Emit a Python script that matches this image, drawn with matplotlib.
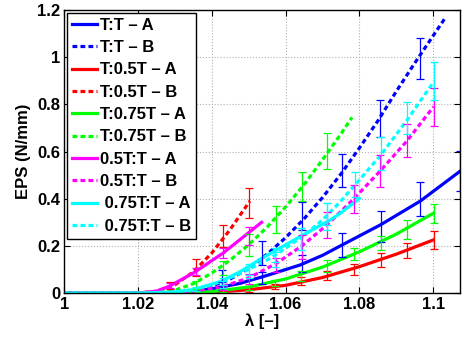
import numpy as np
import matplotlib
matplotlib.use('Agg')
import matplotlib.pyplot as plt

plt.rcParams['font.family'] = ['Liberation Sans', 'DejaVu Sans']
plt.rcParams['font.weight'] = 'bold'

# fitted curves
tt_a_x = [1.0, 1.02, 1.03, 1.035, 1.04, 1.0476, 1.055, 1.0639, 1.07, 1.0752, 1.0858, 1.0965, 1.108]
tt_a_y = [0, 0, 0.003, 0.008, 0.018, 0.041, 0.075, 0.119, 0.16, 0.203, 0.29, 0.39, 0.525]
tt_b_x = [1.0, 1.02, 1.03, 1.035, 1.04, 1.045, 1.05, 1.055, 1.06, 1.065, 1.07, 1.075, 1.08, 1.085, 1.09, 1.095, 1.1032]
tt_b_y = [0, 0, 0.002, 0.01, 0.03, 0.06, 0.105, 0.165, 0.235, 0.315, 0.405, 0.505, 0.615, 0.73, 0.855, 0.975, 1.165]
t05_a_x = [1.0, 1.03, 1.04, 1.05, 1.06, 1.07, 1.08, 1.09, 1.1]
t05_a_y = [0, 0, 0.003, 0.014, 0.033, 0.066, 0.112, 0.165, 0.225]
t05_b_x = [1.0, 1.02, 1.025, 1.03, 1.035, 1.04, 1.045, 1.0503]
t05_b_y = [0, 0, 0.008, 0.035, 0.09, 0.17, 0.27, 0.39]
t075_a_x = [1.0, 1.03, 1.04, 1.05, 1.06, 1.07, 1.08, 1.09, 1.1]
t075_a_y = [0, 0.001, 0.006, 0.026, 0.06, 0.11, 0.175, 0.25, 0.338]
t075_b_x = [1.0, 1.02, 1.025, 1.03, 1.035, 1.04, 1.045, 1.05, 1.055, 1.06, 1.065, 1.07, 1.075, 1.078]
t075_b_y = [0, 0, 0.002, 0.012, 0.04, 0.085, 0.14, 0.205, 0.28, 0.365, 0.46, 0.565, 0.675, 0.745]
h05_a_x = [1.0, 1.02, 1.025, 1.0286, 1.035, 1.0431, 1.0503, 1.0535]
h05_a_y = [0, 0, 0.008, 0.03, 0.085, 0.17, 0.26, 0.30]
h05_b_x = [1.0, 1.025, 1.03, 1.035, 1.043, 1.0501, 1.0574, 1.0644, 1.0713, 1.0785, 1.0856, 1.0929, 1.1001]
h05_b_y = [0, 0, 0.002, 0.008, 0.028, 0.065, 0.125, 0.2, 0.29, 0.40, 0.517, 0.645, 0.79]
h075_a_x = [1.0, 1.02, 1.03, 1.035, 1.0422, 1.0476, 1.0535, 1.0639, 1.072, 1.0748, 1.08]
h075_a_y = [0, 0, 0.005, 0.015, 0.048, 0.09, 0.147, 0.239, 0.309, 0.338, 0.401]
h075_b_x = [1.0, 1.025, 1.03, 1.035, 1.04, 1.045, 1.05, 1.055, 1.06, 1.065, 1.07, 1.0748, 1.0788, 1.0858, 1.0929, 1.1001]
h075_b_y = [0, 0, 0.004, 0.015, 0.035, 0.065, 0.1, 0.14, 0.19, 0.245, 0.31, 0.387, 0.458, 0.585, 0.733, 0.895]

# measured points with error bars
tt_a_px = [1.0427, 1.0535, 1.0644, 1.0752, 1.0858, 1.0965, 1.1073]
tt_a_m = [0.03, 0.065, 0.126, 0.203, 0.283, 0.399, 0.517]
tt_a_e = [0.015, 0.025, 0.035, 0.05, 0.066, 0.073, 0.085]
tt_b_px = [1.0427, 1.0535, 1.0644, 1.0752, 1.0856, 1.0964]
tt_b_m = [0.065, 0.17, 0.327, 0.518, 0.739, 0.995]
tt_b_e = [0.033, 0.05, 0.06, 0.07, 0.079, 0.088]
t05_a_px = [1.0429, 1.0501, 1.0571, 1.0642, 1.0713, 1.0786, 1.0858, 1.0929, 1.1001]
t05_a_m = [0.004, 0.012, 0.027, 0.05, 0.075, 0.099, 0.14, 0.18, 0.224]
t05_a_e = [0.003, 0.006, 0.011, 0.017, 0.02, 0.023, 0.028, 0.033, 0.039]
t05_b_px = [1.0286, 1.0357, 1.0431, 1.0501]
t05_b_m = [0.033, 0.107, 0.242, 0.382]
t05_b_e = [0.016, 0.036, 0.046, 0.063]
t075_a_px = [1.0429, 1.0501, 1.0571, 1.0642, 1.0713, 1.0786, 1.0858, 1.0929, 1.1001]
t075_a_m = [0.008, 0.022, 0.042, 0.072, 0.115, 0.166, 0.213, 0.27, 0.337]
t075_a_e = [0.005, 0.008, 0.013, 0.02, 0.025, 0.026, 0.029, 0.039, 0.039]
t075_b_px = [1.0357, 1.0431, 1.0501, 1.0574, 1.0644, 1.0711]
t075_b_m = [0.035, 0.105, 0.205, 0.311, 0.452, 0.602]
t075_b_e = [0.018, 0.029, 0.046, 0.058, 0.062, 0.075]
h05_a_px = [1.0286, 1.0357, 1.0429, 1.0501]
h05_a_m = [0.033, 0.09, 0.168, 0.242]
h05_a_e = [0.01, 0.015, 0.021, 0.039]
h05_b_px = [1.0429, 1.0501, 1.0574, 1.0644, 1.0713, 1.0785, 1.0856, 1.0929, 1.1001]
h05_b_m = [0.025, 0.06, 0.12, 0.196, 0.288, 0.398, 0.517, 0.645, 0.788]
h05_b_e = [0.01, 0.02, 0.03, 0.05, 0.056, 0.06, 0.068, 0.07, 0.079]
h075_a_px = [1.0357, 1.0429, 1.0501, 1.0571, 1.0642, 1.0713]
h075_a_m = [0.018, 0.05, 0.1, 0.16, 0.228, 0.325]
h075_a_e = [0.008, 0.015, 0.022, 0.03, 0.046, 0.058]
h075_b_px = [1.0429, 1.0501, 1.0571, 1.0642, 1.0713, 1.0788, 1.0858, 1.0929, 1.1001]
h075_b_m = [0.035, 0.09, 0.143, 0.228, 0.335, 0.461, 0.59, 0.742, 0.9]
h075_b_e = [0.015, 0.025, 0.032, 0.046, 0.048, 0.053, 0.07, 0.068, 0.081]

labels = ['T:T \u2013 A', 'T:T \u2013 B', 'T:0.5T \u2013 A', 'T:0.5T \u2013 B',
          'T:0.75T \u2013 A', 'T:0.75T \u2013 B', '0.5T:T \u2013 A', '0.5T:T \u2013 B',
          ' 0.75T:T \u2013 A', ' 0.75T:T \u2013 B']
colors = ['#0000ff', '#0000ff', '#ff0000', '#ff0000', '#00ff00', '#00ff00',
          '#ff00ff', '#ff00ff', '#00ffff', '#00ffff']

curves = [(tt_a_x, tt_a_y), (tt_b_x, tt_b_y), (t05_a_x, t05_a_y), (t05_b_x, t05_b_y),
          (t075_a_x, t075_a_y), (t075_b_x, t075_b_y), (h05_a_x, h05_a_y), (h05_b_x, h05_b_y),
          (h075_a_x, h075_a_y), (h075_b_x, h075_b_y)]
bars = [(tt_a_px, tt_a_m, tt_a_e), (tt_b_px, tt_b_m, tt_b_e), (t05_a_px, t05_a_m, t05_a_e),
        (t05_b_px, t05_b_m, t05_b_e), (t075_a_px, t075_a_m, t075_a_e), (t075_b_px, t075_b_m, t075_b_e),
        (h05_a_px, h05_a_m, h05_a_e), (h05_b_px, h05_b_m, h05_b_e), (h075_a_px, h075_a_m, h075_a_e),
        (h075_b_px, h075_b_m, h075_b_e)]

fig = plt.figure(figsize=(4.62, 3.42), dpi=100)
ax = fig.add_axes([0.139, 0.143, 0.857, 0.828])

for i, (cx, cy) in enumerate(curves):
    ls = '-' if i % 2 == 0 else (0, (1.5, 1.0))
    ax.plot(cx, cy, color=colors[i], lw=2.3, linestyle=ls, label=labels[i])

for i, (bx, bm, be) in enumerate(bars):
    ax.errorbar(bx, bm, yerr=be, fmt='none', ecolor=colors[i], elinewidth=0.9,
                capsize=3, capthick=0.9)

ax.set_xlim(1.0, 1.1073)
ax.set_ylim(0, 1.2)
ax.set_xticks([1.0, 1.02, 1.04, 1.06, 1.08, 1.1])
ax.set_xticklabels(['1', '1.02', '1.04', '1.06', '1.08', '1.1'])
ax.set_yticks([0, 0.2, 0.4, 0.6, 0.8, 1.0, 1.2])
ax.set_yticklabels(['0', '0.2', '0.4', '0.6', '0.8', '1', '1.2'])
ax.tick_params(direction='in', top=True, right=True, labelsize=12, length=4, pad=3)
ax.grid(True, linestyle=':', color='#b0b0b0', lw=0.8)
for s in ax.spines.values():
    s.set_linewidth(1.0)

ax.set_xlabel('\u03bb [\u2013]', fontsize=12, fontweight='bold', labelpad=1)
ax.set_ylabel('EPS (N/mm)', fontsize=12, fontweight='bold', labelpad=4)

leg = ax.legend(loc='upper left', bbox_to_anchor=(0.006, 0.99), borderaxespad=0,
                fontsize=12, handlelength=1.5, handletextpad=0.2, labelspacing=0.44,
                borderpad=0.3, fancybox=False, framealpha=1, edgecolor='black')
leg.get_frame().set_linewidth(1.0)

plt.savefig('out.png', dpi=100)
